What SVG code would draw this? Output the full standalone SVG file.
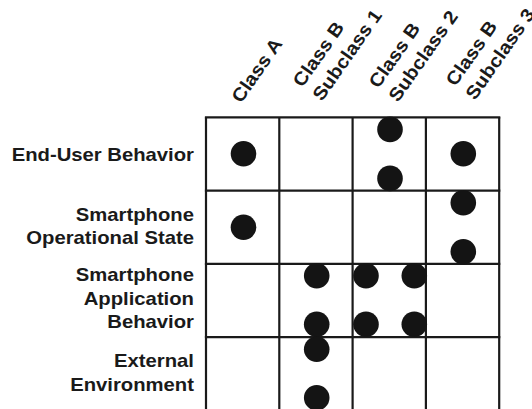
<svg xmlns="http://www.w3.org/2000/svg" width="532" height="409" viewBox="0 0 532 409">
<style>
  .lbl { font-family: "Liberation Sans", Arial, Helvetica, sans-serif; font-weight: bold; font-size: 18.6px; fill: #1a1a1a; }
  .end { text-anchor: end; }
  .grid line { stroke: #1a1a1a; stroke-width: 2.2; }
  .dot { fill: #141414; }
</style>
<rect width="532" height="409" fill="#ffffff"/>

<g id="column-headers" class="lbl">
  <g id="col-class-a" transform="translate(241,104) rotate(-55) scale(1.09,1)">
    <text x="0" y="0">Class A</text>
  </g>
  <g id="col-subclass-1" transform="translate(322,102) rotate(-55) scale(1.09,1)">
    <text x="0" y="-24">Class B</text>
    <text x="0" y="0">Subclass 1</text>
  </g>
  <g id="col-subclass-2" transform="translate(398,103) rotate(-55) scale(1.09,1)">
    <text x="0" y="-24">Class B</text>
    <text x="0" y="0">Subclass 2</text>
  </g>
  <g id="col-subclass-3" transform="translate(475,101) rotate(-55) scale(1.09,1)">
    <text x="0" y="-24">Class B</text>
    <text x="0" y="0">Subclass 3</text>
  </g>
</g>

<g id="row-labels" class="lbl end">
  <g id="row-end-user" transform="translate(194,0) scale(1.09,1)">
    <text x="0" y="160.7">End-User Behavior</text>
  </g>
  <g id="row-operational" transform="translate(194,0) scale(1.09,1)">
    <text x="0" y="221">Smartphone</text>
    <text x="0" y="244.3">Operational State</text>
  </g>
  <g id="row-application" transform="translate(194,0) scale(1.09,1)">
    <text x="0" y="281.5">Smartphone</text>
    <text x="0" y="304.8">Application</text>
    <text x="0" y="328.1">Behavior</text>
  </g>
  <g id="row-environment" transform="translate(194,0) scale(1.09,1)">
    <text x="0" y="367.5">External</text>
    <text x="0" y="391">Environment</text>
  </g>
</g>

<g id="grid" class="grid">
  <line x1="206" y1="117.3" x2="206" y2="409"/>
  <line x1="279.3" y1="117.3" x2="279.3" y2="409"/>
  <line x1="352.6" y1="117.3" x2="352.6" y2="409"/>
  <line x1="425.9" y1="117.3" x2="425.9" y2="409"/>
  <line x1="499.2" y1="117.3" x2="499.2" y2="409"/>
  <line x1="204.9" y1="117.3" x2="500.3" y2="117.3"/>
  <line x1="204.9" y1="190.6" x2="500.3" y2="190.6"/>
  <line x1="204.9" y1="263.9" x2="500.3" y2="263.9"/>
  <line x1="204.9" y1="337.2" x2="500.3" y2="337.2"/>
</g>

<g id="dots">
  <circle class="dot" cx="243.5" cy="153.8" r="12.8"/>
  <circle class="dot" cx="390" cy="129.4" r="12.8"/>
  <circle class="dot" cx="390" cy="178.4" r="12.8"/>
  <circle class="dot" cx="463.3" cy="153.8" r="12.8"/>
  <circle class="dot" cx="243.5" cy="227.2" r="12.8"/>
  <circle class="dot" cx="463.3" cy="202.7" r="12.8"/>
  <circle class="dot" cx="463.3" cy="251.7" r="12.8"/>
  <circle class="dot" cx="316.7" cy="275.8" r="12.8"/>
  <circle class="dot" cx="316.7" cy="324.2" r="12.8"/>
  <circle class="dot" cx="366" cy="275.8" r="12.8"/>
  <circle class="dot" cx="414.3" cy="275.8" r="12.8"/>
  <circle class="dot" cx="366" cy="324.2" r="12.8"/>
  <circle class="dot" cx="414.3" cy="324.2" r="12.8"/>
  <circle class="dot" cx="316.7" cy="349.2" r="12.8"/>
  <circle class="dot" cx="316.7" cy="397.8" r="12.8"/>
</g>
</svg>
